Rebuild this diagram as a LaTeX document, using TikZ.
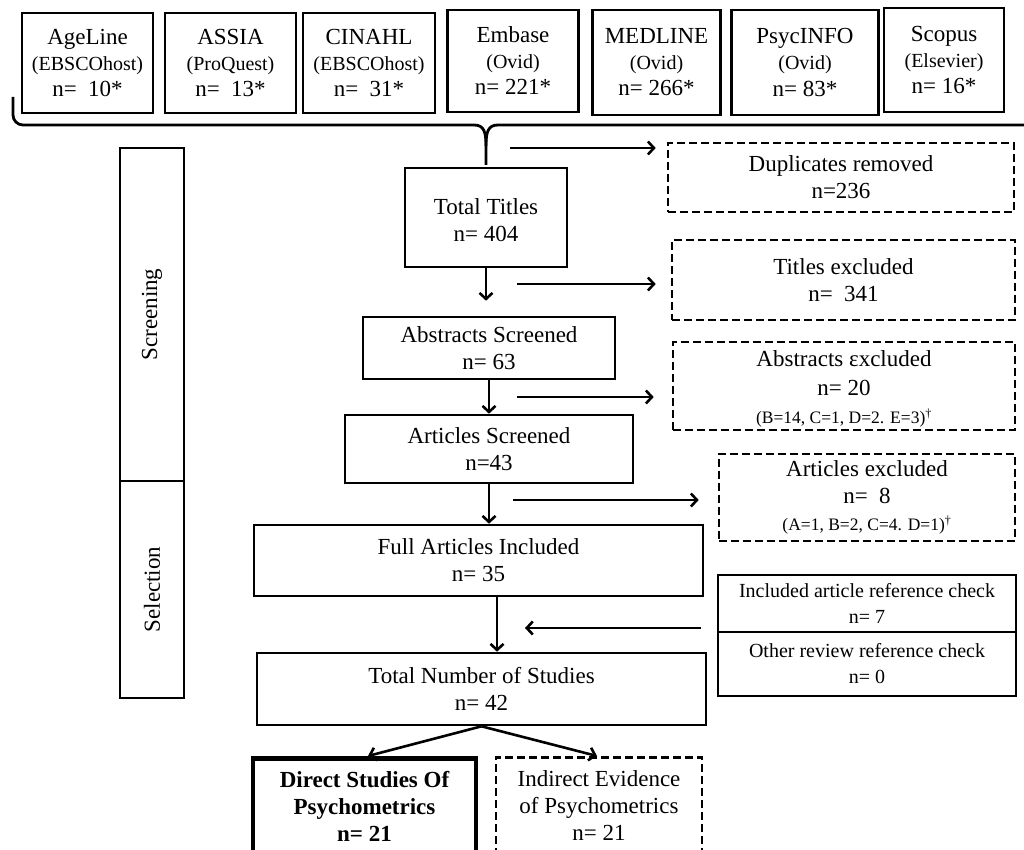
\documentclass[tikz,border=0pt]{standalone}
\usepackage{fontspec}
\setmainfont{Liberation Serif}
\usetikzlibrary{arrows.meta}
\newcommand\fmain{\fontsize{23}{27}\selectfont}
\newcommand\fsub{\fontsize{20}{24}\selectfont}
\newcommand\fsmall{\fontsize{17.5}{22}\selectfont}
\begin{document}
\begin{tikzpicture}[x=1pt,y=-1pt,
  every node/.style={inner sep=0pt, align=center},
  fbox/.style={draw, line width=2.6pt, font=\fmain},
  tbox/.style={draw, line width=2.6pt, font=\fontsize{23}{26}\selectfont},
  dbox/.style={fbox, dash pattern=on 8pt off 4pt},
  rbox/.style={draw, line width=2.4pt, font=\fontsize{20}{26}\selectfont},
  sbox/.style={draw, line width=1.3pt, font=\fmain, rotate=90},
  arr/.style={line width=2.6pt, -{Straight Barb[length=6pt,width=13pt]}},
  lnk/.style={line width=2.8pt}]
\useasboundingbox (0,0) rectangle (1024,850);
\clip (0,0) rectangle (1024,850);

% database boxes
\node[tbox, minimum width=131, minimum height=100] (ageline) at (87.5,63) {AgeLine\\{\fsub (EBSCOhost)}\\n=~~10*};
\node[tbox, minimum width=131, minimum height=100] (assia) at (230.5,63) {ASSIA\\{\fsub (ProQuest)}\\n=~~13*};
\node[tbox, minimum width=132, minimum height=100] (cinahl) at (369,63) {CINAHL\\{\fsub (EBSCOhost)}\\n=~~31*};
\node[tbox, minimum width=131, minimum height=102] (embase) at (513,61) {Embase\\{\fsub (Ovid)}\\n= 221*};
\node[tbox, minimum width=128, minimum height=105] (medline) at (656.5,62.5) {MEDLINE\\{\fsub (Ovid)}\\n= 266*};
\node[tbox, minimum width=147, minimum height=105] (psyc) at (805,62.5) {PsycINFO\\{\fsub (Ovid)}\\n= 83*};
\node[tbox, minimum width=120, minimum height=104] (scopus) at (944,60) {Scopus\\{\fsub (Elsevier)}\\n= 16*};

% brace
\draw[lnk] (13,97) -- (13,115) to[out=-90,in=180] (23,125) -- (474,125)
  .. controls (484,125) and (486,132) .. (486,146) -- (486,165);
\draw[lnk] (1024,125) -- (498,125) .. controls (488,125) and (486,132) .. (486,146);

% side labels
\node[sbox, minimum width=333, minimum height=64] (screening) at (152,314.5) {Screening};
\node[sbox, minimum width=217, minimum height=64] (selection) at (152,589.5) {Selection};

% main flow
\node[fbox, minimum width=162, minimum height=99] (tt) at (486,217.5) {\rule{0pt}{22pt}Total Titles\\n= 404};
\node[fbox, minimum width=252, minimum height=62] (as) at (489,348) {Abstracts Screened\\n= 63};
\node[fbox, minimum width=288, minimum height=68] (ars) at (489,449) {Articles Screened\\n=43};
\node[fbox, minimum width=449, minimum height=71] (fai) at (478.5,560.5) {Full Articles Included\\n= 35};
\node[fbox, minimum width=449, minimum height=72] (tns) at (481.5,689) {Total Number of Studies\\n= 42};
\node[fbox, line width=4.5pt, font=\fmain\bfseries, minimum width=223, minimum height=97, anchor=north] (direct) at (364.5,756) {Direct Studies Of\\Psychometrics\\n= 21};
\node[dbox, minimum width=206, minimum height=97, anchor=north] (indirect) at (599,756) {Indirect Evidence\\of Psychometrics\\n= 21};

% exclusion boxes
\node[dbox, minimum width=346, minimum height=69] (dup) at (841,177.5) {Duplicates removed\\n=236};
\node[dbox, minimum width=343, minimum height=80] (tex) at (843.5,280) {Titles excluded\\n=~~341};
\node[dbox, font=\fontsize{23}{28.5}\selectfont, minimum width=342, minimum height=88] (aex) at (844,386) {\rule{0pt}{22pt}Abstracts εxcluded\\n= 20\\{\fsmall (B=14, C=1, D=2. E=3)\textsuperscript{†}}};
\node[dbox, minimum width=296, minimum height=87] (arex) at (867,497.5) {Articles excluded\\n=~~8\\{\fsmall (A=1, B=2, C=4. D=1)\textsuperscript{†}}};

% reference check boxes
\node[rbox, minimum width=298, minimum height=57] (incl) at (867,603.5) {Included article reference check\\n= 7};
\node[rbox, minimum width=298, minimum height=64] (oth) at (867,664) {Other review reference check\\n= 0};

% side arrows
\coordinate (d1) at (510,148);
\coordinate (t1) at (517,284);
\coordinate (a1) at (517,397);
\coordinate (r1) at (513,500);
\coordinate (back) at (525,628);
\draw[arr, shorten >=11pt] (d1) -- (d1 -| dup.west);
\draw[arr, shorten >=15pt] (t1) -- (t1 -| tex.west);
\draw[arr, shorten >=18pt] (a1) -- (a1 -| aex.west);
\draw[arr, shorten >=19pt] (r1) -- (r1 -| arex.west);
\draw[arr] (incl.west |- back) ++(-16,0) -- (back);

% vertical arrows
\draw[arr, shorten >=15pt] (tt.south) -- (tt.south |- as.north);
\draw[arr] (as.south) -- (as.south |- ars.north);
\draw[arr] (ars.south) -- (ars.south |- fai.north);
\draw[arr] ([xshift=18.5pt]fai.south) -- ([xshift=18.5pt]fai.south |- tns.north);
\draw[arr] (tns.south) -- ([xshift=3.5pt]direct.north);
\draw[arr] (tns.south) -- ([xshift=-2pt]indirect.north);
\end{tikzpicture}
\end{document}
